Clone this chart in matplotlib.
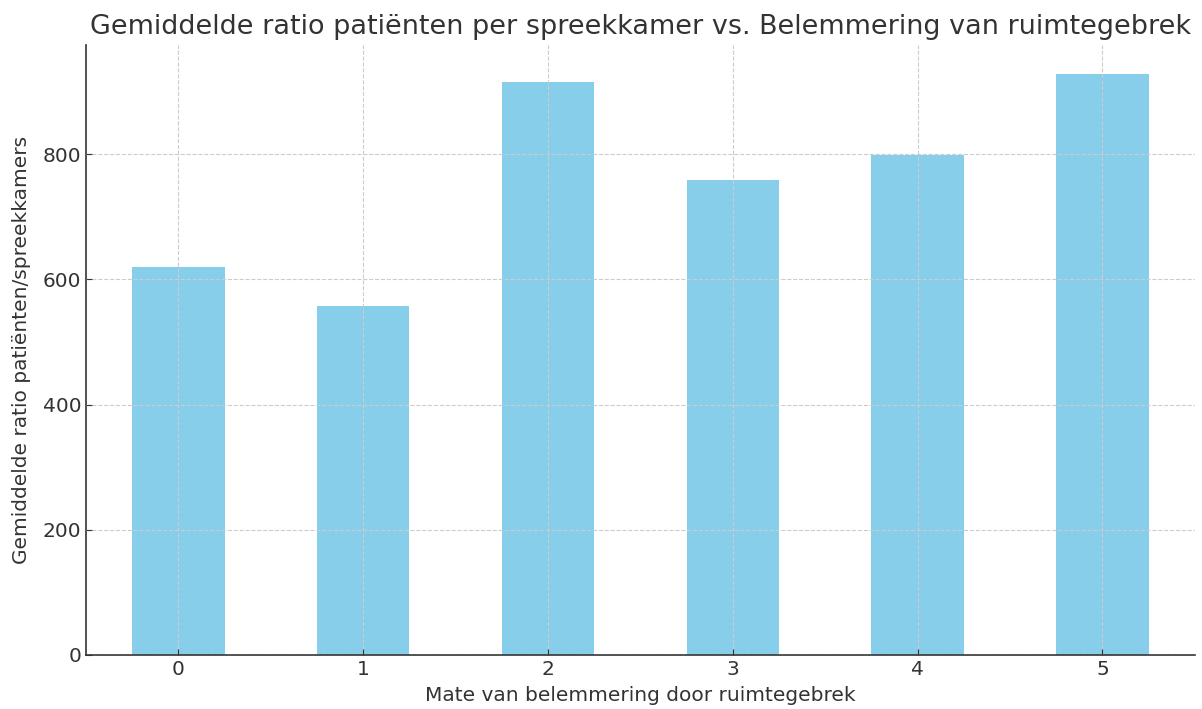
import matplotlib
matplotlib.use('Agg')
import matplotlib.pyplot as plt

# Values
categories = ['0', '1', '2', '3', '4', '5']
ratios = [620, 558, 916, 758, 798, 928]

title = 'Gemiddelde ratio patiënten per spreekkamer vs. Belemmering van ruimtegebrek'
xaxislabel = 'Mate van belemmering door ruimtegebrek'
yaxislabel = 'Gemiddelde ratio patiënten/spreekkamers'
textcolor = '#333333'

fig = plt.figure(figsize=(12.02, 7.09), dpi=100)
ax = fig.add_axes([0.0716, 0.0762, 0.9224, 0.8603])

ax.bar(range(len(categories)), ratios, width=0.5, color='skyblue')
ax.set_xticks(range(len(categories)))
ax.set_xticklabels(categories)
ax.set_xlim(-0.5, len(categories) - 0.5)

# Grid drawn over the bars, as in the reference
ax.set_axisbelow(False)
ax.grid(True, linestyle='--', color='#cccccc', linewidth=0.8)

for spine in 'right', 'top':
    ax.spines[spine].set_visible(False)
for spine in 'left', 'bottom':
    ax.spines[spine].set_color(textcolor)
    ax.spines[spine].set_linewidth(1.2)

ax.tick_params(colors=textcolor, labelsize=14.5, length=4, direction='in')
ax.set_title(title, fontsize=19.45, color=textcolor, pad=8)
ax.set_xlabel(xaxislabel, fontsize=14.5, color=textcolor, labelpad=5)
ax.set_ylabel(yaxislabel, fontsize=14.5, color=textcolor, labelpad=8)

fig.savefig('out.png', dpi=100)
